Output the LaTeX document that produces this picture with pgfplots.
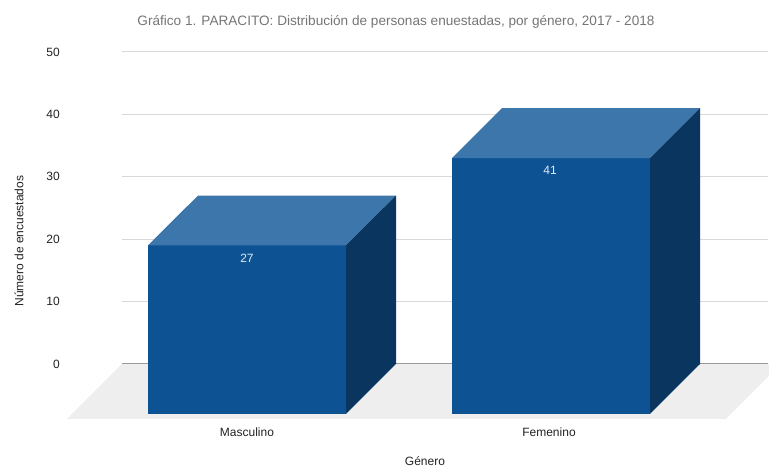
\documentclass[border=0pt]{standalone}
\usepackage{fontspec}
\setmainfont{Liberation Sans}
\usepackage{pgfplots}
\pgfplotsset{compat=1.18}
\definecolor{frontc}{HTML}{0D5293}
\definecolor{topc}{HTML}{3D76AA}
\definecolor{sidec}{HTML}{09355E}
\definecolor{floorc}{HTML}{EEEEEE}
\definecolor{gridc}{HTML}{D9D9D9}
\definecolor{zeroc}{HTML}{999999}
\definecolor{titlec}{HTML}{757575}
\definecolor{txtc}{HTML}{222222}
\definecolor{lblc}{HTML}{E4EAF0}
\begin{document}
\begin{tikzpicture}
\begin{axis}[
  name=ax,
  scale only axis,
  width=646pt, height=312pt,
  xmin=122, xmax=768, ymin=0, ymax=50,
  clip=false,
  axis line style={draw=none},
  tick style={draw=none},
  ytick={0,10,20,30,40,50},
  ymajorgrids, grid style={gridc, line width=1pt},
  xtick={247,549},
  xticklabels={Masculino,Femenino},
  /pgf/number format/assume math mode=true,
  ticklabel style={font=\fontsize{12}{14}\selectfont, text=txtc},
  yticklabel style={anchor=east, inner sep=0pt, xshift=-62pt},
  xticklabel style={anchor=center, inner sep=0pt, yshift=-68pt},
]
% floor
\addplot[fill=floorc, draw=none] coordinates {(67,-8.8) (726,-8.8) (781,0) (122,0)} -- cycle;
% zero line
\addplot[zeroc, line width=1pt] coordinates {(122,0) (768,0)};
% Masculino (27)
\addplot[fill=frontc, draw=none] coordinates {(148,-8) (346,-8) (346,19) (148,19)} -- cycle;
\addplot[fill=topc, draw=none] coordinates {(148,19) (346,19) (396,27) (198,27)} -- cycle;
\addplot[fill=sidec, draw=none] coordinates {(346,-8) (396,0) (396,27) (346,19)} -- cycle;
% Femenino (41)
\addplot[fill=frontc, draw=none] coordinates {(452,-8) (650,-8) (650,33) (452,33)} -- cycle;
\addplot[fill=topc, draw=none] coordinates {(452,33) (650,33) (700,41) (502,41)} -- cycle;
\addplot[fill=sidec, draw=none] coordinates {(650,-8) (700,0) (700,41) (650,33)} -- cycle;
% value labels
\addplot[draw=none, mark=none, nodes near coords, point meta=explicit symbolic,
  every node near coord/.style={anchor=center, inner sep=0pt, text=lblc, font=\fontsize{12}{14}\selectfont}]
  coordinates {(247,16.95)[27] (550,30.95)[41]};
% texts
\node[anchor=base, text=titlec, font=\fontsize{13.6}{15}\selectfont] at (axis cs:396,54.2) {Gráfico 1. PARACITO: Distribución de personas enuestadas, por género, 2017 - 2018};
\node[rotate=90, anchor=center, text=txtc, font=\fontsize{12}{14}\selectfont] at (axis cs:19,19.71) {Número de encuestados};
\node[anchor=base, inner sep=0pt, text=txtc, font=\fontsize{12}{14}\selectfont] at (axis cs:425,-16.3) {Género};
\end{axis}
\pgfresetboundingbox
\path ([xshift=-122pt,yshift=-104pt]ax.south west) rectangle ++(769pt,468pt);
\end{tikzpicture}
\end{document}
